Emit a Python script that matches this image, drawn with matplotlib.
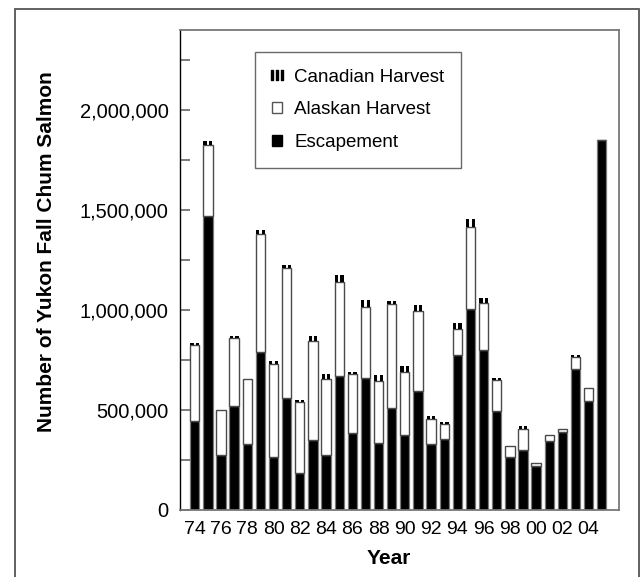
import numpy as np
import matplotlib
matplotlib.use('Agg')
import matplotlib.pyplot as plt
from matplotlib.patches import Patch, Rectangle
from matplotlib.lines import Line2D
from matplotlib.ticker import FuncFormatter

plt.rcParams['font.family'] = ['Liberation Sans', 'DejaVu Sans']

# values in thousands of fish
years = list(range(1974, 2006))
escapement = [444, 1471, 275, 519, 329, 787, 266, 557, 183, 349, 275, 669, 385, 657, 332, 510,
              374, 595, 329, 354, 772, 1004, 800, 495, 264, 299, 219, 344, 389, 702, 544, 1851]
alaskan = [380, 354, 222, 338, 323, 591, 461, 651, 354, 495, 379, 470, 294, 356, 312, 518,
           315, 399, 123, 76, 130, 411, 236, 152, 56, 106, 13, 30, 16, 64, 63, 0]
canadian = [8, 20, 0, 10, 0, 20, 17, 17, 10, 25, 23, 37, 10, 38, 28, 17,
            28, 28, 17, 10, 33, 40, 22, 10, 0, 15, 0, 0, 0, 7, 0, 0]
tick_years = years[::2]
tick_labels = ['%02d' % (y % 100) for y in tick_years]

esc = np.array(escapement) * 1000
ala = np.array(alaskan) * 1000
can = np.array(canadian) * 1000
x = np.arange(len(years))

fig = plt.figure(figsize=(6.43, 5.77), dpi=100)
ax = fig.add_axes([179.5 / 643, 1 - 509.7 / 577, (619 - 179.5) / 643, (509.7 - 30) / 577])

# outer frame of the figure
fig.patches.append(Rectangle((15 / 643, -0.05), (639 - 15) / 643, 1 - 9 / 577 + 0.05,
                             transform=fig.transFigure, fill=False, ec='#555555', lw=1.3,
                             clip_on=False))

w = 0.71
ax.bar(x, esc, width=w, color='black', edgecolor='#7a7a7a', linewidth=0.9)
ax.bar(x, ala, width=w, bottom=esc, color='white', edgecolor='#4a4a4a', linewidth=1.0)
# Canadian harvest drawn as two black stripes on top
for off in (-0.21, 0.21):
    ax.bar(x + off, can, width=0.25, bottom=esc + ala, color='black', linewidth=0)

ax.set_xlim(-1.16, 32.31)
ax.set_ylim(0, 2400000)
ax.set_xticks([years.index(y) for y in tick_years])
ax.set_xticklabels(tick_labels)
ax.tick_params(axis='x', length=0, labelsize=14, pad=8)

ax.set_yticks(np.arange(0, 2300000, 250000))
ax.yaxis.set_major_formatter(FuncFormatter(
    lambda v, p: '{:,.0f}'.format(v) if v % 500000 == 0 and v <= 2000000 else ''))
ax.tick_params(axis='y', direction='in', length=7.5, width=1.2, color='#666666',
               labelsize=14.5, pad=8)

for s in ('top', 'right', 'bottom'):
    ax.spines[s].set_color('#777777')
    ax.spines[s].set_linewidth(1.3)
ax.spines['left'].set_color('black')
ax.spines['left'].set_linewidth(1.0)

ax.set_ylabel('Number of Yukon Fall Chum Salmon', fontsize=15, fontweight='bold')
ax.yaxis.set_label_coords(-0.282, 0.537)
ax.set_xlabel('Year', fontsize=15, fontweight='bold', va='top')
ax.xaxis.set_label_coords(0.4767, -0.081)

handles = [
    Line2D([0], [0], ls='none', marker=r'$\mathbf{III}$', color='black', markersize=9),
    Patch(facecolor='white', edgecolor='#555555', linewidth=1),
    Patch(facecolor='black', edgecolor='black'),
]
labels = ['Canadian Harvest', 'Alaskan Harvest', 'Escapement']
leg = ax.legend(handles, labels, loc='upper left',
                bbox_to_anchor=((255 - 179.5) / 439.5, (509.7 - 52) / 479.7),
                borderaxespad=0, fontsize=13.5, frameon=True, fancybox=False,
                handlelength=0.55, handleheight=0.55, handletextpad=0.65,
                borderpad=0.88, labelspacing=0.84)
leg.get_frame().set_edgecolor('#444444')
leg.get_frame().set_linewidth(1.0)

fig.savefig('out.png', dpi=100)
